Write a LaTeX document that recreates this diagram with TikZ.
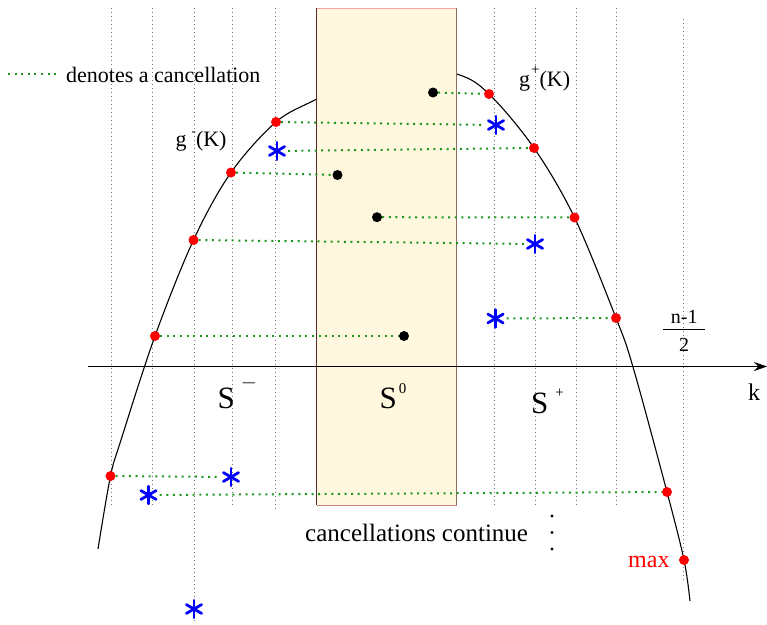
\documentclass[tikz,border=0pt]{standalone}
\usepackage{fontspec}
\setmainfont{Liberation Serif}
\newfontfamily\tms{Liberation Serif}
\usetikzlibrary{arrows.meta}
\definecolor{cgreen}{RGB}{30,150,30}
\definecolor{cream}{RGB}{255,247,222}
\definecolor{boxpink}{RGB}{255,160,160}
\definecolor{boxleft}{RGB}{90,45,45}
\definecolor{boxright}{RGB}{140,110,100}
\begin{document}
\begin{tikzpicture}[x=1pt,y=-1pt,
  vline/.style={draw=black!55, line width=0.9pt, dash pattern=on 1pt off 3pt},
  cancel/.style={draw=cgreen, line width=2pt, dash pattern=on 2pt off 4.6pt},
  rdot/.style={circle, fill=red, minimum size=10pt, inner sep=0pt},
  bdot/.style={circle, fill=black, minimum size=10pt, inner sep=0pt},
  astx/.style={circle, minimum size=22pt, inner sep=0pt,
    path picture={\foreach \aa/\bb in {90/270,30/210,150/330}
      {\draw[blue, line width=2.8pt, line cap=round]
        ([shift={(\aa:8.8pt)}]path picture bounding box.center) --
        ([shift={(\bb:8.8pt)}]path picture bounding box.center);}}},
  txt/.style={inner sep=0pt, anchor=base west, font=\tms\fontsize{22}{26}\selectfont},
  slbl/.style={inner sep=0pt, anchor=base west, font=\tms\fontsize{31}{36}\selectfont}]
\useasboundingbox (0,0) rectangle (767,624);

% vertical guide lines
\foreach \x/\ya/\yb in {111/8/507, 152/8/507, 194/8/623, 232/8/507, 275/8/509,
  494.5/8/505, 535/8/505, 576/8/505, 616.5/8/505, 683/19/583}
  \draw[vline] (\x,\ya) -- (\x,\yb);

% curve
\draw[line width=1.1pt] plot[smooth, tension=0.55] coordinates {
  (98,549) (110.5,476) (121,440) (155,336) (193.5,240) (231,172.5) (276,122)
  (316.7,99) (390,62) (456.7,74) (489,94) (534,148) (574.5,217.5) (616,318)
  (633,367) (667,492) (684,560) (690,601)};

% box S^0
\node[fill=cream, minimum width=140pt, minimum height=497pt, inner sep=0pt,
  anchor=north west] (box) at (316.5,8) {};
\draw[boxpink, line width=1pt] (box.north west) -- (box.north east);
\draw[boxpink!80!black, line width=1pt] (box.south west) -- (box.south east);
\draw[boxleft, line width=1pt] (box.north west) -- (box.south west);
\draw[boxright, line width=1pt] (box.north east) -- (box.south east);

% axis
\coordinate (ax0) at (88,366.5);
\coordinate (ax1) at (767,366.5);
\draw[line width=1.3pt, -{Stealth[length=13pt,width=9pt]}] (ax0) -- (ax1);

% legend
\coordinate (lg0) at (8,74);
\coordinate (lg1) at (58,74);
\draw[cancel] (lg0) -- (lg1);
\node[txt] (legend) at (66,82) {denotes a cancellation};

% red points
\node[rdot] (r1) at (110.5,476) {};
\node[rdot] (r2) at (155,336) {};
\node[rdot] (r3) at (193.5,240) {};
\node[rdot] (r4) at (231,172.5) {};
\node[rdot] (r5) at (276,122) {};
\node[rdot] (r6) at (489,94) {};
\node[rdot] (r7) at (534,148) {};
\node[rdot] (r8) at (574.5,217.5) {};
\node[rdot] (r9) at (616,318) {};
\node[rdot] (r10) at (667,492) {};
\node[rdot] (r11) at (684,560) {};

% black points
\node[bdot] (b1) at (433,92.5) {};
\node[bdot] (b2) at (337.5,175) {};
\node[bdot] (b3) at (377,217.2) {};
\node[bdot] (b4) at (404,336) {};

% asterisks
\node[astx] (a1) at (496,125) {};
\node[astx] (a2) at (277,151) {};
\node[astx] (a3) at (535,244) {};
\node[astx] (a4) at (495.5,318.5) {};
\node[astx] (a5) at (231,477) {};
\node[astx] (a6) at (148.5,495) {};
\node[astx] (a7) at (194,609) {};

% cancellations
\draw[cancel] (b1) -- (r6);
\draw[cancel] (r5) -- (a1);
\draw[cancel] (a2) -- (r7);
\draw[cancel] (r4) -- (b2);
\draw[cancel] (b3) -- (r8);
\draw[cancel] (r3) -- (a3);
\draw[cancel] (r2) -- (b4);
\draw[cancel] (a4) -- (r9);
\draw[cancel] (r1) -- (a5);
\draw[cancel] (a6) -- (r10);

% labels
\node[txt] (gminus) at (175.5,146) {g\hspace{5pt}\raisebox{11pt}{\fontsize{13}{13}\selectfont -}(K)};
\node[txt] (gplus) at (519,86) {g\hspace{1pt}\raisebox{12pt}{\fontsize{15}{15}\selectfont +}(K)};
\node[slbl] (sminus) at (217.5,408) {S\hspace{6pt}\raisebox{20pt}{\fontsize{22}{22}\selectfont$-$}};
\node[slbl] (szero) at (379.5,408) {S\hspace{2pt}\raisebox{15pt}{\fontsize{15}{15}\selectfont 0}};
\node[slbl] (splus) at (531,413) {S\hspace{7pt}\raisebox{16pt}{\fontsize{15}{15}\selectfont +}};
\node[txt, font=\tms\fontsize{24}{28}\selectfont] (klbl) at (748,400) {k};
\node[txt, anchor=base, font=\tms\fontsize{20}{24}\selectfont] (num) at (684.3,323) {n-1};
\node[txt, anchor=base, font=\tms\fontsize{20}{24}\selectfont] (den) at (684,351) {2};
\coordinate (bar0) at (663,329.5);
\coordinate (bar1) at (705,329.5);
\draw[line width=1pt] (bar0) -- (bar1);
\node[txt, font=\tms\fontsize{25}{30}\selectfont] (cont) at (305,541.5) {cancellations continue};
\foreach \y [count=\i] in {516,532.5,549} \fill (552,\y) circle (1.7pt);
\node[txt, text=red, font=\tms\fontsize{24}{28}\selectfont] (maxlbl) at (628,567) {max};
\end{tikzpicture}
\end{document}
